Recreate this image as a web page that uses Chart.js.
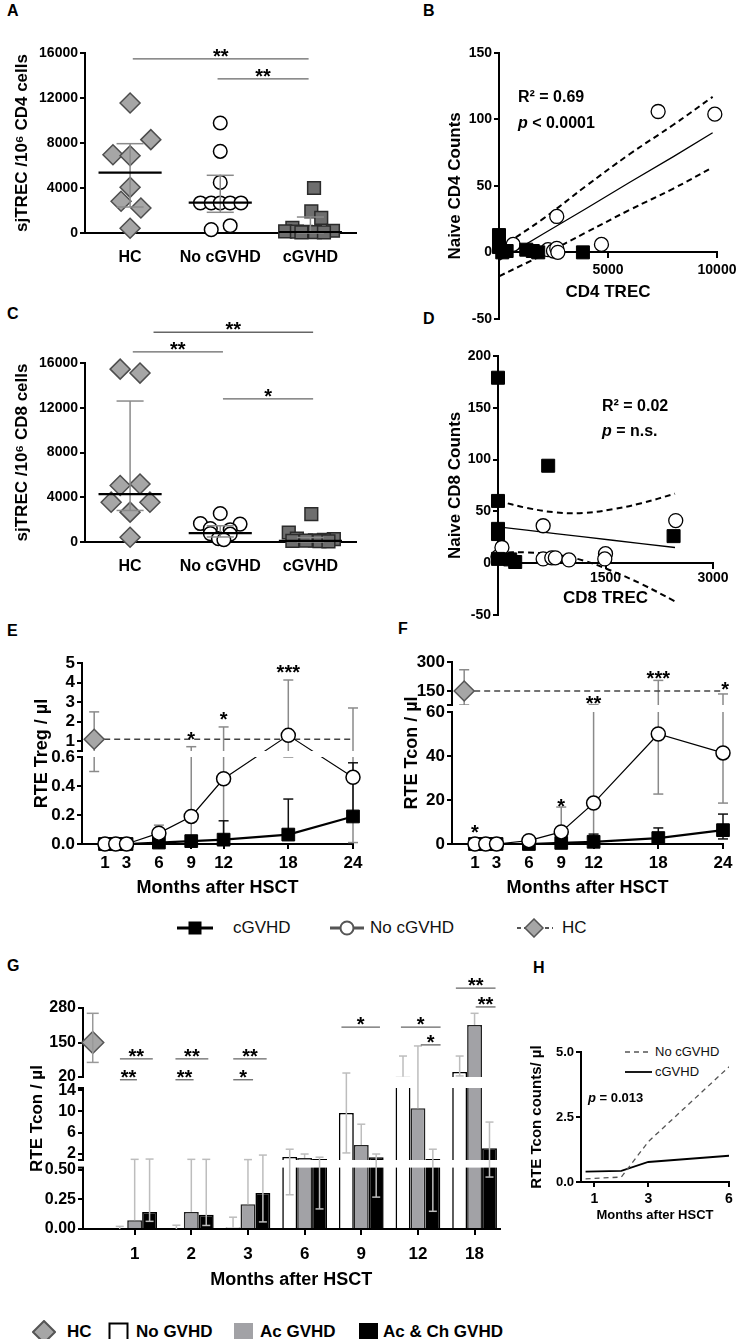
<!DOCTYPE html>
<html>
<head>
<meta charset="utf-8">
<script src="https://cdn.jsdelivr.net/npm/chart.js@4.4.1/dist/chart.umd.min.js"></script>
<style>
  html, body { margin: 0; padding: 0; background: #fff; overflow: hidden; }
  body { width: 739px; height: 1339px; position: relative; font-family: 'Liberation Sans', Arial, sans-serif; }
  canvas, .t, svg { position: absolute; }
  .t { white-space: nowrap; color: #000; }
  .let { font-weight: bold; font-size: 16px; line-height: 16px; }
  .lg { font-size: 17px; line-height: 20px; color: #111; }
  .lgb { font-size: 17px; line-height: 20px; font-weight: bold; }
  .lgs { font-size: 13px; line-height: 16px; color: #111; }
</style>
</head>
<body>

<div class="t let" style="left:7px;top:3px">A</div>
<div class="t let" style="left:423px;top:3px">B</div>
<div class="t let" style="left:7px;top:306px">C</div>
<div class="t let" style="left:423px;top:311px">D</div>
<div class="t let" style="left:7px;top:623px">E</div>
<div class="t let" style="left:398px;top:621px">F</div>
<div class="t let" style="left:7px;top:958px">G</div>
<div class="t let" style="left:533px;top:960px">H</div>

<!-- legend under E / F -->
<svg style="left:175px;top:918px" width="40" height="20"><line x1="2" y1="10" x2="38" y2="10" stroke="#000" stroke-width="3"/><rect x="13.5" y="3.5" width="13" height="13" fill="#000"/></svg>
<div class="t lg" style="left:233px;top:918px">cGVHD</div>
<svg style="left:328px;top:918px" width="40" height="20"><line x1="2" y1="10" x2="36" y2="10" stroke="#555" stroke-width="3"/><circle cx="19" cy="10" r="6.5" fill="#fff" stroke="#555" stroke-width="2"/></svg>
<div class="t lg" style="left:370px;top:918px">No cGVHD</div>
<svg style="left:515px;top:918px" width="40" height="20"><line x1="2" y1="10" x2="38" y2="10" stroke="#555" stroke-width="2" stroke-dasharray="4,3"/><polygon points="10,10 19,1 28,10 19,19" fill="#a6a6a6" stroke="#555" stroke-width="1.5"/></svg>
<div class="t lg" style="left:562px;top:918px">HC</div>

<!-- legend inside H -->
<svg style="left:624px;top:1045px" width="30" height="34"><line x1="1" y1="7" x2="28" y2="7" stroke="#555" stroke-width="1.3" stroke-dasharray="5,4"/><line x1="1" y1="27" x2="28" y2="27" stroke="#000" stroke-width="1.8"/></svg>
<div class="t lgs" style="left:655px;top:1044px">No cGVHD</div>
<div class="t lgs" style="left:655px;top:1064px">cGVHD</div>

<!-- legend under G -->
<svg style="left:32px;top:1320px" width="24" height="24"><polygon points="1,12 12,1 23,12 12,23" fill="#a6a6a6" stroke="#555" stroke-width="2"/></svg>
<div class="t lgb" style="left:67px;top:1322px">HC</div>
<svg style="left:108px;top:1322px" width="22" height="22"><rect x="1.5" y="1.5" width="18" height="18" fill="#fff" stroke="#000" stroke-width="2"/></svg>
<div class="t lgb" style="left:136px;top:1322px">No GVHD</div>
<svg style="left:233px;top:1322px" width="22" height="22"><rect x="1" y="1" width="19" height="19" fill="#a2a2a6"/></svg>
<div class="t lgb" style="left:260px;top:1322px">Ac GVHD</div>
<svg style="left:358px;top:1322px" width="22" height="22"><rect x="1" y="1" width="19" height="19" fill="#000"/></svg>
<div class="t lgb" style="left:383px;top:1322px">Ac &amp; Ch GVHD</div>

<script>
// ---------------- data ----------------
const groupLabels = ['HC', 'No cGVHD', 'cGVHD'];

// A: sjTREC / 10^6 CD4 cells
const aHC = [11550, 8300, 6960, 6870, 4060, 2820, 2220, 420];
const aNo = [9780, 7260, 4500, 2670, 2670, 2670, 2670, 2670, 300, 650];
const aCg = [4000, 1930, 1350, 450, 200, 150, 120, 100, 80, 60, 50];
const aMedian = [5360, 2700, 90];
const aQ1 = [2310, 1840, 0];
const aQ3 = [7940, 5130, 1420];

// C: sjTREC / 10^6 CD8 cells
const cHC = [15450, 15100, 5050, 5190, 3560, 3560, 2670, 420];
const cNo = [2550, 1650, 1600, 1200, 1100, 750, 700, 300, 200];
const cCg = [2500, 850, 300, 250, 200, 150, 120, 100, 80, 60];
const cMedian = [4280, 800, 100];
const cQ1 = [2820, 450, 0];
const cQ3 = [12600, 1450, 400];

// B: naive CD4 counts vs CD4 TREC
const bNoX = [7300, 9900, 2650, 4700, 650, 2250, 2500, 2650, 2700];
const bNoY = [106, 104, 27, 6, 6, 2, 1, 3, 0];
const bCgX = [0, 0, 350, 1250, 1550, 1800, 3850, 150];
const bCgY = [13, 4, 1, 2, 1, 0, 0, 0];
const bFitX = [0, 2000, 4000, 6000, 8000, 9800];
const bFit = [-6, 13.6, 33, 52.7, 72, 90];
const bUpper = [3, 25, 50, 74, 96, 117];
const bLower = [-18, -2, 15, 32, 48, 64];

// D: naive CD8 counts vs CD8 TREC
const dCgX = [0, 700, 0, 0, 0, 170, 240, 0, 2450];
const dCgY = [179, 94, 60, 33, 28, 3.5, 1, 4, 26];
const dNoX = [0, 55, 630, 630, 750, 800, 990, 1500, 1490, 2480];
const dNoY = [6, 15, 36, 4, 5, 5, 3, 9, 4, 41];
const dFitX = [0, 400, 800, 1200, 1600, 2000, 2470];
const dFit = [35, 31.8, 28.5, 25.3, 22, 18.8, 15];
const dUpper = [60, 53.3, 49, 48.3, 52, 57.8, 67];
const dLower = [10, 10.3, 8, 2.3, -8, -20.2, -37];

// E / F: months after HSCT
const months = [1, 2, 3, 6, 9, 12, 18, 24];
const monthTicks = [1, 3, 6, 9, 12, 18, 24];
const eNo = [0, 0, 0, 0.075, 0.19, 0.45, 1.3, 0.46];
const eNoLo = [null, null, null, null, 0, 0, 0.6, 0.01];
const eNoHi = [null, null, null, 0.13, 0.72, 1.73, 4.13, 2.7];
const eCg = [0, 0, 0, 0.01, 0.02, 0.03, 0.065, 0.19];
const eCgHi = [null, null, null, null, null, 0.16, 0.31, 0.56];
const eHC = 1.1, eHCLo = 0.5, eHCHi = 2.5;
const eTicks = [0, 0.2, 0.4, 0.6, 1, 2, 3, 4, 5];
const eTickLabels = ['0.0', '0.2', '0.4', '0.6', '1', '2', '3', '4', '5'];

const fNo = [0, 0, 0, 1.5, 5.5, 18.6, 50, 41.4];
const fNoLo = [null, null, null, null, 0, 0.5, 22.7, 18.6];
const fNoHi = [null, null, null, null, 16.8, 80, 205, 135];
const fCg = [0, 0, 0, 0, 0.5, 1, 2.7, 6.3];
const fCgLo = [null, null, null, null, null, null, null, 2.3];
const fCgHi = [null, null, null, null, null, 4.5, 7.3, 13.6];
const fHC = 150, fHCLo = 78, fHCHi = 260;
const fTicks = [0, 20, 40, 60, 150, 300];

// G: RTE Tcon by GVHD group
const gMonths = ['1', '2', '3', '6', '9', '12', '18'];
const gNo = [0, 0, 0.012, 1.45, 9.7, 21, 39];
const gNoLo = [null, null, null, 0.29, 2.2, null, 24];
const gNoHi = [0.022, 0.032, 0.1, 2.9, 35, 99, 99];
const gAc = [0.075, 0.145, 0.21, 1.25, 3.7, 10.6, 216];
const gAcHi = [1.0, 1.0, 0.95, 2.0, 7.6, 137, 260];
const gAcCh = [0.145, 0.12, 0.305, 1.05, 1.4, 1.05, 3.1];
const gAcChLo = [0.065, 0.03, 0.06, 0.17, 0.27, 0.15, 0.44];
const gAcChHi = [1.05, 1.0, 1.8, 1.4, 2.0, 2.9, 8];
const gHC = 150, gHCLo = 75, gHCHi = 260;
const gTicks = [0, 0.25, 0.5, 2, 6, 10, 14, 20, 150, 280];
const gTickLabels = ['0.00', '0.25', '0.50', '2', '6', '10', '14', '20', '150', '280'];

// H: fitted RTE Tcon counts
const hX = [0.67, 2, 3, 6];
const hNo = [0.12, 0.19, 1.55, 4.43];
const hCg = [0.4, 0.43, 0.77, 1.01];

// ---------------- layout (jitter for dot plots, not data) ----------------
const aHCJit = [0, 0.23, -0.19, 0, 0, -0.1, 0.12, 0];
const aNoJit = [0, 0, 0, -0.22, -0.1, 0, 0.11, 0.23, -0.1, 0.11];
const aCgJit = [0.04, 0.01, 0.12, -0.2, 0.25, -0.28, -0.15, -0.05, 0.05, 0.15, -0.1];
const cHCJit = [-0.11, 0.11, -0.11, 0.11, -0.21, 0.22, 0, 0];
const cNoJit = [0, -0.22, 0.22, -0.11, 0.11, -0.11, 0.11, -0.02, 0.04];
const cCgJit = [0.01, -0.24, -0.15, 0.26, 0.15, 0.05, -0.05, -0.2, 0.1, 0.2];

// ---------------- chart.js setup ----------------
const FONT = "'Liberation Sans', Arial, sans-serif";
Chart.defaults.font.family = FONT;
Chart.defaults.color = '#000';
Chart.defaults.animation = false;
Chart.defaults.events = [];
Chart.defaults.plugins.legend.display = false;
Chart.defaults.plugins.tooltip.enabled = false;

const extrasFor = {};
const brokenAxes = {};
const plain = v => String(v);

// linear axis with cut-out ranges (axis breaks)
class BrokenScale extends Chart.LinearScale {
  buildTicks() {
    return brokenAxes[this.chart.canvas.id].ticks.map(v => ({ value: v }));
  }
  getPixelForValue(v) {
    const cfg = brokenAxes[this.chart.canvas.id];
    const pcs = cfg.pieces;
    let f = 0;
    for (let i = 0; i < pcs.length; i++) {
      const p = pcs[i], n = pcs[i + 1];
      if (!n || v <= p.hi) { f = p.a + (v - p.lo) / (p.hi - p.lo) * (p.b - p.a); break; }
      if (v < n.lo) { f = p.b + (v - p.hi) / (n.lo - p.hi) * (n.a - p.b); break; }
    }
    return this.bottom - f / cfg.span * (this.bottom - this.top);
  }
}
BrokenScale.id = 'broken';
BrokenScale.defaults = Chart.LinearScale.defaults;
Chart.register(BrokenScale);

function line(ctx, x0, y0, x1, y1) {
  ctx.beginPath(); ctx.moveTo(x0, y0); ctx.lineTo(x1, y1); ctx.stroke();
}

function drawErrs(chart, list) {
  const ctx = chart.ctx, ys = chart.scales.y;
  ctx.save();
  list.forEach(e => {
    const meta = chart.getDatasetMeta(e.ds);
    ctx.strokeStyle = e.color; ctx.lineWidth = e.width || 1.5;
    meta.data.forEach((el, i) => {
      const lo = e.lo ? e.lo[i] : null, hi = e.hi ? e.hi[i] : null;
      if (lo == null && hi == null) return;
      const y0 = lo == null ? el.y : ys.getPixelForValue(lo);
      const y1 = hi == null ? el.y : ys.getPixelForValue(hi);
      line(ctx, el.x, y0, el.x, y1);
      if (lo != null) line(ctx, el.x - e.cap, y0, el.x + e.cap, y0);
      if (hi != null) line(ctx, el.x - e.cap, y1, el.x + e.cap, y1);
    });
  });
  ctx.restore();
}

function drawGaps(chart) {
  const cfg = brokenAxes[chart.canvas.id], a = chart.chartArea, ctx = chart.ctx;
  const toPx = f => a.bottom - f / cfg.span * (a.bottom - a.top);
  ctx.save();
  for (let i = 0; i < cfg.pieces.length - 1; i++) {
    const y0 = toPx(cfg.pieces[i].b), y1 = toPx(cfg.pieces[i + 1].a);
    ctx.fillStyle = '#fff';
    ctx.fillRect(a.left - 2, y1, a.right - a.left + 10, y0 - y1);
    ctx.strokeStyle = '#000'; ctx.lineWidth = 2;
    line(ctx, a.left - 5, y0, a.left + 1, y0);
    line(ctx, a.left - 5, y1, a.left + 1, y1);
  }
  ctx.restore();
}

function drawBoxes(chart, b) {
  const ctx = chart.ctx, xs = chart.scales.x, ys = chart.scales.y;
  ctx.save();
  b.x.forEach((c, i) => {
    const xc = xs.getPixelForValue(c);
    const cw = xs.getPixelForValue(c + 0.15) - xc;
    const mw = xs.getPixelForValue(c + 0.35) - xc;
    const y1 = ys.getPixelForValue(b.q1[i]), y3 = ys.getPixelForValue(b.q3[i]);
    ctx.strokeStyle = '#8a8a8a'; ctx.lineWidth = 1.5;
    line(ctx, xc, y1, xc, y3);
    line(ctx, xc - cw, y1, xc + cw, y1);
    line(ctx, xc - cw, y3, xc + cw, y3);
    const ym = ys.getPixelForValue(b.med[i]);
    ctx.strokeStyle = '#000'; ctx.lineWidth = 2.2;
    line(ctx, xc - mw, ym, xc + mw, ym);
  });
  ctx.restore();
}

function drawSig(chart, list) {
  const ctx = chart.ctx, xs = chart.scales.x, ys = chart.scales.y;
  ctx.save();
  list.forEach(s => {
    const x0 = xs.getPixelForValue(s.x0), x1 = xs.getPixelForValue(s.x1), y = ys.getPixelForValue(s.y);
    ctx.strokeStyle = '#666'; ctx.lineWidth = 1.3;
    line(ctx, x0, y, x1, y);
    ctx.fillStyle = '#000'; ctx.font = 'bold 20px ' + FONT;
    ctx.textAlign = 'center'; ctx.textBaseline = 'alphabetic';
    ctx.fillText(s.text, (x0 + x1) / 2, y + 4);
  });
  ctx.restore();
}

function drawTexts(chart, list) {
  const ctx = chart.ctx, xs = chart.scales.x, ys = chart.scales.y;
  list.forEach(t => {
    let x = xs.getPixelForValue(t.x);
    const y = ys.getPixelForValue(t.y) + (t.star ? 0.57 : 0.36) * t.size;
    const parts = t.parts || [{ t: t.text }];
    const fontOf = p => (p.i ? 'italic ' : '') + 'bold ' + t.size + 'px ' + FONT;
    ctx.save();
    ctx.fillStyle = '#000'; ctx.textBaseline = 'alphabetic'; ctx.textAlign = 'left';
    let w = 0;
    parts.forEach(p => { ctx.font = fontOf(p); w += ctx.measureText(p.t).width; });
    if (t.align === 'center') x -= w / 2;
    parts.forEach(p => { ctx.font = fontOf(p); ctx.fillText(p.t, x, y); x += ctx.measureText(p.t).width; });
    ctx.restore();
  });
}

Chart.register({
  id: 'extras',
  beforeDatasetsDraw(chart) {
    const e = extrasFor[chart.canvas.id];
    if (e && e.errs && e.errsBelow) drawErrs(chart, e.errs);
  },
  afterDatasetsDraw(chart) {
    const e = extrasFor[chart.canvas.id];
    if (brokenAxes[chart.canvas.id]) drawGaps(chart);
    if (!e) return;
    if (e.errs && !e.errsBelow) drawErrs(chart, e.errs);
    if (e.boxes) drawBoxes(chart, e.boxes);
    if (e.sig) drawSig(chart, e.sig);
    if (e.texts) drawTexts(chart, e.texts);
  }
});

function merge(a, b) {
  for (const k in b) {
    if (b[k] && typeof b[k] === 'object' && !Array.isArray(b[k]) && a[k] && typeof a[k] === 'object') merge(a[k], b[k]);
    else a[k] = b[k];
  }
  return a;
}

function place(id, p) {
  const c = document.createElement('canvas');
  c.id = id;
  c.width = p.yw + (p.r - p.l) + p.pr;
  c.height = p.pt + (p.b - p.t) + (p.xh || 0) + (p.pb || 0);
  c.style.left = (p.l - p.yw) + 'px';
  c.style.top = (p.t - p.pt) + 'px';
  document.body.appendChild(c);
  return c;
}

function yAxis(p, extra) {
  return merge({
    position: 'left',
    grid: { drawOnChartArea: false, color: '#000', lineWidth: 2, tickLength: 5 },
    border: { color: '#000', width: 2 },
    ticks: { font: { size: p.tf, weight: 'bold' }, padding: 2, autoSkip: false, color: '#000', callback: plain },
    title: { display: true, text: p.yt, color: '#000', font: { size: p.ttf, weight: 'bold' }, padding: { top: p.ytp, bottom: 0 } },
    afterFit(s) { s.width = p.yw; s.paddingTop = 0; s.paddingBottom = 0; }
  }, extra || {});
}

function xAxis(p, h, extra) {
  return merge({
    type: 'linear',
    position: 'bottom',
    grid: { drawOnChartArea: false, color: '#000', lineWidth: 2, tickLength: 5 },
    border: { color: '#000', width: 2 },
    ticks: { font: { size: 14, weight: 'bold' }, padding: 4, autoSkip: false, maxRotation: 0, color: '#000', callback: plain },
    afterFit(s) { s.height = h; s.paddingLeft = 0; s.paddingRight = 0; }
  }, extra || {});
}

function baseOptions(p) {
  return {
    responsive: false, maintainAspectRatio: false,
    layout: { padding: { top: p.pt, right: p.pr, left: 0, bottom: p.pb || 0 } }
  };
}

// ---------- dot plots A and C ----------
function dotPlot(id, p, hc, hcJ, no, noJ, cg, cgJ, med, q1, q3, sig) {
  const c = place(id, p);
  extrasFor[id] = { boxes: { x: [1, 2, 3], med, q1, q3 }, sig };
  new Chart(c, {
    type: 'scatter',
    data: { datasets: [
      { data: hc.map((v, i) => ({ x: 1 + hcJ[i], y: v })), pointStyle: 'rectRot', pointRadius: 10,
        backgroundColor: '#a6a6a6', borderColor: '#4d4d4d', borderWidth: 1.5, clip: false },
      { data: no.map((v, i) => ({ x: 2 + noJ[i], y: v })), pointStyle: 'circle', pointRadius: 6.8,
        backgroundColor: '#fff', borderColor: '#000', borderWidth: 1.5, clip: false },
      { data: cg.map((v, i) => ({ x: 3 + cgJ[i], y: v })), pointStyle: 'rect', pointRadius: 9,
        backgroundColor: '#6e6e6e', borderColor: '#2b2b2b', borderWidth: 1.5, clip: false }
    ] },
    options: merge(baseOptions(p), { scales: {
      x: xAxis(p, p.xh, {
        min: 0.5, max: 3.5,
        grid: { drawTicks: false },
        afterBuildTicks: s => { s.ticks = [1, 2, 3].map(v => ({ value: v })); },
        ticks: { font: { size: 16 }, padding: 15, callback: (v, i) => groupLabels[i] }
      }),
      y: yAxis(p, { min: 0, max: 16000, ticks: { stepSize: 4000 } })
    } })
  });
}

dotPlot('cA', { l: 85, t: 53, r: 357, b: 233, yw: 85, pt: 23, pr: 10, xh: 45, tf: 14, ttf: 17, ytp: 12,
  yt: 'sjTREC /10\u2076 CD4 cells' },
  aHC, aHCJit, aNo, aNoJit, aCg, aCgJit, aMedian, aQ1, aQ3,
  [{ x0: 1.03, x1: 2.98, y: 15470, text: '**' }, { x0: 1.97, x1: 2.98, y: 13700, text: '**' }]);

dotPlot('cC', { l: 85, t: 363, r: 357, b: 542, yw: 85, pt: 63, pr: 10, xh: 45, tf: 14, ttf: 17, ytp: 12,
  yt: 'sjTREC /10\u2076 CD8 cells' },
  cHC, cHCJit, cNo, cNoJit, cCg, cCgJit, cMedian, cQ1, cQ3,
  [{ x0: 1.26, x1: 3.03, y: 18750, text: '**' }, { x0: 1.03, x1: 2.03, y: 17000, text: '**' },
   { x0: 2.03, x1: 3.03, y: 12800, text: '*' }]);

// ---------- correlation plots B and D ----------
function corrPlot(id, p, cgX, cgY, noX, noY, fx, fit, up, lo, xr, texts) {
  const c = place(id, p);
  extrasFor[id] = { texts };
  const pts = (xs, ys) => xs.map((x, i) => ({ x, y: ys[i] }));
  new Chart(c, {
    type: 'scatter',
    data: { datasets: [
      { data: pts(cgX, cgY), pointStyle: 'rect', pointRadius: 9.2, backgroundColor: '#000', borderColor: '#000', borderWidth: 1, clip: false },
      { data: pts(noX, noY), pointStyle: 'circle', pointRadius: 7, backgroundColor: '#fff', borderColor: '#000', borderWidth: 1.3, clip: false },
      { data: pts(fx, fit), showLine: true, pointRadius: 0, borderColor: '#000', borderWidth: 1.3, tension: 0 },
      { data: pts(fx, up), showLine: true, pointRadius: 0, borderColor: '#000', borderWidth: 2, borderDash: [6, 4], tension: 0.4 },
      { data: pts(fx, lo), showLine: true, pointRadius: 0, borderColor: '#000', borderWidth: 2, borderDash: [6, 4], tension: 0.4 }
    ] },
    options: merge(baseOptions(p), { scales: {
      x: xAxis(p, p.xh, {
        position: { y: 0 }, min: 0, max: xr.max,
        ticks: { stepSize: xr.step, padding: xr.pad },
        afterBuildTicks: s => { s.ticks = s.ticks.filter(t => t.value > 0); },
        title: { display: true, text: xr.title, color: '#000', font: { size: 17, weight: 'bold' }, padding: { top: 0, bottom: 0 } }
      }),
      y: yAxis(p, { min: -50, max: xr.ymax, ticks: { stepSize: 50 } })
    } })
  });
}

corrPlot('cB', { l: 499, t: 53, r: 717, b: 269, yw: 129, pt: 23, pr: 22, pb: 10, xh: 50, tf: 14, ttf: 17, ytp: 75,
  yt: 'Naive CD4 Counts' },
  bCgX, bCgY, bNoX, bNoY, bFitX, bFit, bUpper, bLower,
  { max: 10000, step: 5000, pad: 4, title: 'CD4 TREC', ymax: 150 },
  [{ x: 870, y: 117.6, size: 16, parts: [{ t: 'R\u00b2 = 0.69' }] },
   { x: 870, y: 98, size: 16, parts: [{ t: 'p', i: true }, { t: ' < 0.0001' }] }]);

corrPlot('cD', { l: 498, t: 356, r: 713, b: 570, yw: 128, pt: 26, pr: 24, pb: 10, xh: 45, tf: 14, ttf: 17, ytp: 75,
  yt: 'Naive CD8 Counts' },
  dCgX, dCgY, dNoX, dNoY, dFitX, dFit, dUpper, dLower,
  { max: 3000, step: 1500, pad: 2, title: 'CD8 TREC', ymax: 200 },
  [{ x: 1450, y: 152, size: 16, parts: [{ t: 'R\u00b2 = 0.02' }] },
   { x: 1450, y: 128, size: 16, parts: [{ t: 'p', i: true }, { t: ' = n.s.' }] }]);

// ---------- time courses E and F ----------
function timePlot(id, p, axisCfg, tickLabels, no, noLo, noHi, cg, cgLo, cgHi, hc, hcLo, hcHi, stars) {
  const c = place(id, p);
  brokenAxes[id] = axisCfg;
  extrasFor[id] = {
    errsBelow: true,
    errs: [
      { ds: 0, lo: noLo, hi: noHi, color: '#8a8a8a', cap: 5 },
      { ds: 1, lo: cgLo, hi: cgHi, color: '#111', cap: 5 },
      { ds: 2, lo: [hcLo, null], hi: [hcHi, null], color: '#8a8a8a', cap: 5 }
    ],
    texts: stars.map(s => ({ x: s[0], y: s[1], text: s[2], size: 20, star: true, align: 'center' }))
  };
  const last = months[months.length - 1];
  new Chart(c, {
    type: 'scatter',
    data: { datasets: [
      { data: months.map((m, i) => ({ x: m, y: no[i] })), showLine: true, tension: 0, borderColor: '#000', borderWidth: 1.2,
        pointStyle: 'circle', pointRadius: 7, pointBackgroundColor: '#fff', pointBorderColor: '#000', pointBorderWidth: 1.5, clip: false },
      { data: months.map((m, i) => ({ x: m, y: cg[i] })), showLine: true, tension: 0, borderColor: '#000', borderWidth: 2.2,
        pointStyle: 'rect', pointRadius: 9, pointBackgroundColor: '#000', pointBorderColor: '#000', pointBorderWidth: 1, clip: false },
      { data: [{ x: 0, y: hc }, { x: last, y: hc }], showLine: true, borderColor: '#444', borderWidth: 1.5, borderDash: [6, 4],
        pointStyle: 'rectRot', pointRadius: [10, 0], pointBackgroundColor: '#a6a6a6', pointBorderColor: '#555', pointBorderWidth: 1.5, clip: false }
    ] },
    options: merge(baseOptions(p), { scales: {
      x: xAxis(p, p.xh, {
        min: -1.13, max: last,
        afterBuildTicks: s => { s.ticks = monthTicks.map(v => ({ value: v })); },
        ticks: { font: { size: 17 }, padding: 4 },
        title: { display: true, text: 'Months after HSCT', color: '#000', font: { size: 18, weight: 'bold' }, padding: { top: 0, bottom: 0 } }
      }),
      y: yAxis(p, { type: 'broken', min: 0, max: axisCfg.ticks[axisCfg.ticks.length - 1],
        ticks: { callback: (v, i) => tickLabels[i] } })
    } })
  });
}

timePlot('cE', { l: 82, t: 663, r: 353, b: 844, yw: 82, pt: 23, pr: 14, xh: 55, tf: 17, ttf: 18, ytp: 31,
  yt: 'RTE Treg / \u00b5l' },
  { span: 181, ticks: eTicks, pieces: [{ lo: 0, hi: 0.6, a: 0, b: 87 }, { lo: 0.5, hi: 5, a: 93, b: 181 }] },
  eTickLabels, eNo, eNoLo, eNoHi, eCg, null, eCgHi, eHC, eHCLo, eHCHi,
  [[9, 1.32, '*'], [12, 2.34, '*'], [18, 4.74, '***']]);

timePlot('cF', { l: 452, t: 662, r: 723, b: 844, yw: 82, pt: 22, pr: 14, xh: 55, tf: 17, ttf: 18, ytp: 31,
  yt: 'RTE Tcon / \u00b5l' },
  { span: 182, ticks: fTicks, pieces: [{ lo: 0, hi: 60, a: 0, b: 132 }, { lo: 78, hi: 300, a: 139, b: 182 }] },
  fTicks.map(String), fNo, fNoLo, fNoHi, fCg, fCgLo, fCgHi, fHC, fHCLo, fHCHi,
  [[1, 7.3, '*'], [9, 19.5, '*'], [12, 109, '**'], [18, 238, '***'], [24.2, 181, '*']]);

// ---------- grouped bars G ----------
(function () {
  const p = { l: 83, t: 1008, r: 502, b: 1229, yw: 83, pt: 38, pr: 10, xh: 62, tf: 16, ttf: 17, ytp: 27,
    yt: 'RTE Tcon / \u00b5l' };
  const id = 'cG';
  const c = place(id, p);
  const pos = gMonths.map((m, i) => i + 1);
  brokenAxes[id] = { span: 221, ticks: gTicks, pieces: [
    { lo: 0, hi: 0.52, a: 0, b: 61.4 }, { lo: 0.875, hi: 14.4, a: 69, b: 141 }, { lo: 20, hi: 280, a: 152, b: 221 }] };
  extrasFor[id] = {
    errs: [
      { ds: 1, lo: gNoLo, hi: gNoHi, color: '#bdbdbd', cap: 4 },
      { ds: 2, lo: null, hi: gAcHi, color: '#bdbdbd', cap: 4 },
      { ds: 3, lo: gAcChLo, hi: gAcChHi, color: '#bdbdbd', cap: 4 },
      { ds: 0, lo: [gHCLo], hi: [gHCHi], color: '#999', cap: 6 }
    ],
    sig: [
      { x0: 0.74, x1: 1.32, y: 88, text: '**' }, { x0: 0.74, x1: 1.04, y: 18.6, text: '**' },
      { x0: 1.72, x1: 2.30, y: 88, text: '**' }, { x0: 1.72, x1: 2.04, y: 18.6, text: '**' },
      { x0: 2.74, x1: 3.33, y: 88, text: '**' }, { x0: 2.74, x1: 3.09, y: 18.6, text: '*' },
      { x0: 4.65, x1: 5.33, y: 208, text: '*' },
      { x0: 5.70, x1: 6.40, y: 208, text: '*' }, { x0: 6.05, x1: 6.40, y: 141, text: '*' },
      { x0: 6.67, x1: 7.37, y: 355, text: '**' }, { x0: 7.02, x1: 7.37, y: 284, text: '**' }
    ]
  };
  const bar = (vals, fill, border) => ({
    type: 'bar', data: pos.map((x, i) => ({ x, y: vals[i] })), backgroundColor: fill, borderColor: border,
    borderWidth: 1.6, categoryPercentage: 0.79, barPercentage: 1
  });
  new Chart(c, {
    type: 'bar',
    data: { datasets: [
      { type: 'scatter', data: [{ x: 0.26, y: gHC }], pointStyle: 'rectRot', pointRadius: 11,
        backgroundColor: '#a6a6a6', borderColor: '#555', borderWidth: 1.5, clip: false },
      bar(gNo, '#fff', '#000'),
      bar(gAc, '#a2a2a6', '#222'),
      bar(gAcCh, '#000', '#000')
    ] },
    options: merge(baseOptions(p), { scales: {
      x: xAxis(p, p.xh, {
        min: 0.088, max: 7.44, offset: false,
        grid: { offset: false, tickLength: 6 },
        afterBuildTicks: s => { s.ticks = pos.map(v => ({ value: v })); },
        ticks: { font: { size: 17 }, padding: 9, callback: (v, i) => gMonths[i] },
        title: { display: true, text: 'Months after HSCT', color: '#000', font: { size: 18, weight: 'bold' }, padding: { top: 0, bottom: 0 } }
      }),
      y: yAxis(p, { type: 'broken', min: 0, max: 280, ticks: { callback: (v, i) => gTickLabels[i] } })
    } })
  });
})();

// ---------- fitted curves H ----------
(function () {
  const p = { l: 581, t: 1052, r: 729, b: 1182, yw: 61, pt: 10, pr: 8, xh: 41, tf: 13, ttf: 15, ytp: 8,
    yt: 'RTE Tcon counts/ \u00b5l' };
  const id = 'cH';
  const c = place(id, p);
  extrasFor[id] = { texts: [{ x: 0.76, y: 3.27, size: 13, parts: [{ t: 'p', i: true }, { t: ' = 0.013' }] }] };
  const hTicks = [0, 2.5, 5];
  new Chart(c, {
    type: 'scatter',
    data: { datasets: [
      { data: hX.map((x, i) => ({ x, y: hNo[i] })), showLine: true, pointRadius: 0, borderColor: '#555', borderWidth: 1.3, borderDash: [5, 4], tension: 0 },
      { data: hX.map((x, i) => ({ x, y: hCg[i] })), showLine: true, pointRadius: 0, borderColor: '#000', borderWidth: 1.8, tension: 0 }
    ] },
    options: merge(baseOptions(p), { scales: {
      x: xAxis(p, p.xh, {
        min: 0.5, max: 6,
        afterBuildTicks: s => { s.ticks = [1, 3, 6].map(v => ({ value: v })); },
        ticks: { font: { size: 14 }, padding: 4 },
        title: { display: true, text: 'Months after HSCT', color: '#000', font: { size: 13, weight: 'bold' }, padding: { top: 0, bottom: 0 } }
      }),
      y: yAxis(p, { min: 0, max: 5,
        afterBuildTicks: s => { s.ticks = hTicks.map(v => ({ value: v })); },
        ticks: { callback: v => v.toFixed(1) } })
    } })
  });
})();
</script>
</body>
</html>
